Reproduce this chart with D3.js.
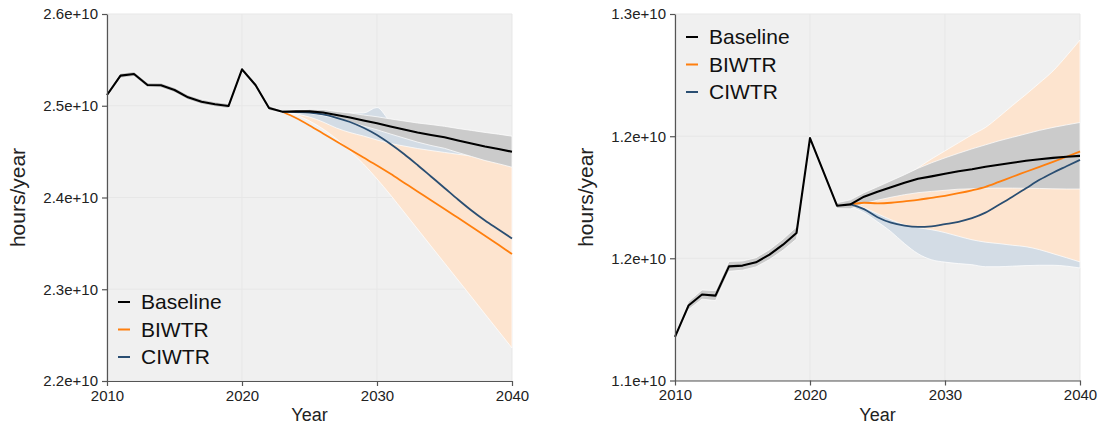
<!DOCTYPE html>
<html>
<head>
<meta charset="utf-8">
<script src="https://cdn.jsdelivr.net/npm/d3@7"></script>
<style>
  html, body { margin: 0; padding: 0; background: #ffffff; }
  svg { display: block; font-family: "Liberation Sans", Arial, Helvetica, sans-serif; }
</style>
</head>
<body>
<svg id="chart" width="1103" height="425"></svg>
<script>
// ---------------- DATA ----------------
const years = [2010, 2011, 2012, 2013, 2014, 2015, 2016, 2017, 2018, 2019, 2020,
               2021, 2022, 2023, 2024, 2025, 2026, 2027, 2028, 2029, 2030,
               2031, 2032, 2033, 2034, 2035, 2036, 2037, 2038, 2039, 2040];
const projYears = [2023, 2024, 2025, 2026, 2027, 2028, 2029, 2030, 2031,
                   2032, 2033, 2034, 2035, 2036, 2037, 2038, 2039, 2040];
const seriesNames = ["Baseline", "BIWTR", "CIWTR"];
const xTickValues = [2010, 2020, 2030, 2040];

// Left panel
const leftYTicks = [2.2e10, 2.3e10, 2.4e10, 2.5e10, 2.6e10];
const leftBaseline = [2.5117e10, 2.5328e10, 2.5346e10, 2.5226e10, 2.5223e10, 2.5172e10, 2.5092e10, 2.5044e10, 2.5016e10, 2.4997e10, 2.5397e10,
  2.5226e10, 2.4975e10, 2.4935e10, 2.4939e10, 2.4939e10, 2.4926e10, 2.4899e10, 2.4872e10, 2.4839e10, 2.4809e10,
  2.4774e10, 2.4741e10, 2.4708e10, 2.4681e10, 2.4656e10, 2.4621e10, 2.4589e10, 2.4556e10, 2.4529e10, 2.4499e10];
const leftBaselineHi = [2.5144e10, 2.5355e10, 2.5373e10, 2.5253e10, 2.5250e10, 2.5199e10, 2.5119e10, 2.5071e10, 2.5043e10, 2.5024e10, 2.5424e10,
  2.5253e10, 2.5002e10, 2.4946e10, 2.4955e10, 2.4961e10, 2.4959e10, 2.4937e10, 2.4921e10, 2.4899e10, 2.4880e10,
  2.4856e10, 2.4834e10, 2.4812e10, 2.4795e10, 2.4776e10, 2.4752e10, 2.4731e10, 2.4709e10, 2.4690e10, 2.4668e10];
const leftBaselineLo = [2.5090e10, 2.5301e10, 2.5319e10, 2.5199e10, 2.5196e10, 2.5145e10, 2.5065e10, 2.5017e10, 2.4989e10, 2.4970e10, 2.5370e10,
  2.5199e10, 2.4948e10, 2.4924e10, 2.4923e10, 2.4917e10, 2.4893e10, 2.4861e10, 2.4823e10, 2.4779e10, 2.4738e10,
  2.4692e10, 2.4648e10, 2.4604e10, 2.4567e10, 2.4536e10, 2.4490e10, 2.4447e10, 2.4403e10, 2.4368e10, 2.4330e10];
const leftBIWTR = [2.4935e10, 2.4866e10, 2.4785e10, 2.4698e10, 2.4610e10, 2.4523e10, 2.4436e10, 2.4349e10, 2.4258e10,
  2.4162e10, 2.4066e10, 2.3971e10, 2.3875e10, 2.3778e10, 2.3681e10, 2.3584e10, 2.3484e10, 2.3384e10];
const leftBIWTRHi = [2.4935e10, 2.4910e10, 2.4877e10, 2.4823e10, 2.4757e10, 2.4708e10, 2.4670e10, 2.4627e10, 2.4589e10,
  2.4561e10, 2.4534e10, 2.4512e10, 2.4491e10, 2.4471e10, 2.4452e10, 2.4431e10, 2.4409e10, 2.4387e10];
const leftBIWTRLo = [2.4935e10, 2.4899e10, 2.4834e10, 2.4747e10, 2.4638e10, 2.4507e10, 2.4365e10, 2.4202e10, 2.4027e10,
  2.3842e10, 2.3657e10, 2.3471e10, 2.3286e10, 2.3101e10, 2.2916e10, 2.2730e10, 2.2545e10, 2.2360e10];
const leftCIWTR = [2.4935e10, 2.4932e10, 2.4926e10, 2.4905e10, 2.4869e10, 2.4823e10, 2.4760e10, 2.4681e10, 2.4583e10,
  2.4474e10, 2.4354e10, 2.4229e10, 2.4104e10, 2.3978e10, 2.3858e10, 2.3749e10, 2.3651e10, 2.3553e10];
const leftCIWTRHi = [2.4943e10, 2.4943e10, 2.4937e10, 2.4932e10, 2.4926e10, 2.4921e10, 2.4921e10, 2.4981e10, 2.4834e10,
  2.4801e10, 2.4757e10, 2.4725e10, 2.4692e10, 2.4659e10, 2.4627e10, 2.4594e10, 2.4561e10, 2.4529e10];
const leftCIWTRLo = [2.4932e10, 2.4910e10, 2.4866e10, 2.4801e10, 2.4736e10, 2.4659e10, 2.4572e10, 2.4463e10, 2.4354e10,
  2.4245e10, 2.4114e10, 2.3984e10, 2.3853e10, 2.3733e10, 2.3624e10, 2.3526e10, 2.3439e10, 2.3352e10];

// Right panel
const rightYTicks = [1.1e10, 1.1667e10, 1.2333e10, 1.3e10];
const rightBaseline = [1.1238e10, 1.1409e10, 1.1469e10, 1.1463e10, 1.1623e10, 1.1627e10, 1.1645e10, 1.1687e10, 1.1741e10, 1.1805e10, 1.2323e10,
  1.2139e10, 1.1954e10, 1.1961e10, 1.2003e10, 1.2030e10, 1.2055e10, 1.2079e10, 1.2101e10, 1.2114e10, 1.2128e10,
  1.2142e10, 1.2153e10, 1.2166e10, 1.2177e10, 1.2188e10, 1.2199e10, 1.2207e10, 1.2215e10, 1.2221e10, 1.2226e10];
const rightBaselineHi = [1.1246e10, 1.1431e10, 1.1494e10, 1.1490e10, 1.1650e10, 1.1652e10, 1.1670e10, 1.1714e10, 1.1771e10, 1.1838e10, 1.2339e10,
  1.2155e10, 1.1970e10, 1.1986e10, 1.2025e10, 1.2057e10, 1.2090e10, 1.2123e10, 1.2158e10, 1.2188e10, 1.2215e10,
  1.2240e10, 1.2264e10, 1.2286e10, 1.2308e10, 1.2327e10, 1.2346e10, 1.2365e10, 1.2381e10, 1.2395e10, 1.2408e10];
const rightBaselineLo = [1.1230e10, 1.1387e10, 1.1444e10, 1.1436e10, 1.1596e10, 1.1602e10, 1.1620e10, 1.1660e10, 1.1711e10, 1.1772e10, 1.2307e10,
  1.2123e10, 1.1938e10, 1.1937e10, 1.1965e10, 1.1984e10, 1.2000e10, 1.2014e10, 1.2025e10, 1.2032e10, 1.2038e10,
  1.2044e10, 1.2046e10, 1.2049e10, 1.2050e10, 1.2050e10, 1.2049e10, 1.2048e10, 1.2046e10, 1.2045e10, 1.2045e10];
const rightBIWTR = [1.1961e10, 1.1970e10, 1.1967e10, 1.1970e10, 1.1978e10, 1.1986e10, 1.1997e10, 1.2008e10, 1.2022e10,
  1.2038e10, 1.2057e10, 1.2084e10, 1.2112e10, 1.2139e10, 1.2166e10, 1.2193e10, 1.2221e10, 1.2250e10];
const rightBIWTRHi = [1.1961e10, 1.1986e10, 1.2025e10, 1.2068e10, 1.2112e10, 1.2161e10, 1.2209e10, 1.2253e10, 1.2297e10,
  1.2341e10, 1.2381e10, 1.2439e10, 1.2501e10, 1.2561e10, 1.2624e10, 1.2689e10, 1.2771e10, 1.2858e10];
const rightBIWTRLo = [1.1961e10, 1.1943e10, 1.1910e10, 1.1877e10, 1.1850e10, 1.1834e10, 1.1823e10, 1.1807e10, 1.1787e10,
  1.1768e10, 1.1755e10, 1.1747e10, 1.1738e10, 1.1730e10, 1.1714e10, 1.1692e10, 1.1670e10, 1.1647e10];
const rightCIWTR = [1.1961e10, 1.1935e10, 1.1891e10, 1.1861e10, 1.1845e10, 1.1838e10, 1.1841e10, 1.1853e10, 1.1866e10,
  1.1886e10, 1.1916e10, 1.1959e10, 1.2003e10, 1.2049e10, 1.2095e10, 1.2134e10, 1.2169e10, 1.2204e10];
const rightCIWTRHi = [1.1970e10, 1.1959e10, 1.1932e10, 1.1910e10, 1.1894e10, 1.1888e10, 1.1888e10, 1.1894e10, 1.1905e10,
  1.1921e10, 1.1948e10, 1.1986e10, 1.2030e10, 1.2074e10, 1.2123e10, 1.2166e10, 1.2204e10, 1.2243e10];
const rightCIWTRLo = [1.1948e10, 1.1916e10, 1.1866e10, 1.1812e10, 1.1747e10, 1.1692e10, 1.1659e10, 1.1646e10, 1.1638e10,
  1.1632e10, 1.1621e10, 1.1621e10, 1.1624e10, 1.1627e10, 1.1629e10, 1.1629e10, 1.1624e10, 1.1614e10];

// ---------------- STYLE ----------------
const lineColors = { Baseline: "#000000", BIWTR: "#ff7f0e", CIWTR: "#2a4e72" };
const bandColors = { Baseline: "#cbcbcb", BIWTR: "#fde4cf", CIWTR: "#d3dce5" };

const svg = d3.select("#chart");
const fmt = d3.format(".1e");

function drawPanel(p) {
  const x = d3.scaleLinear().domain([2010, 2040]).range([p.left, p.right]);
  const y = d3.scaleLinear().domain(p.yDomain).range([p.bottom, p.top]);
  const g = svg.append("g");

  // background
  g.append("rect").attr("x", p.left).attr("y", p.top)
    .attr("width", p.right - p.left).attr("height", p.bottom - p.top)
    .attr("fill", "#f0f0f0");

  // grid
  g.selectAll(".vg").data(xTickValues).enter().append("line")
    .attr("x1", d => x(d)).attr("x2", d => x(d))
    .attr("y1", p.top).attr("y2", p.bottom)
    .attr("stroke", "#e7e7e7").attr("stroke-width", 1);
  g.selectAll(".hg").data(p.yTicks).enter().append("line")
    .attr("x1", p.left).attr("x2", p.right)
    .attr("y1", d => y(d)).attr("y2", d => y(d))
    .attr("stroke", "#e7e7e7").attr("stroke-width", 1);

  const area = (xs, lo, hi, curve) => d3.area().curve(curve)
    .x((d, i) => x(xs[i])).y0((d, i) => y(lo[i])).y1((d, i) => y(hi[i]))(xs);
  const line = (xs, vs, curve) => d3.line().curve(curve)
    .x((d, i) => x(xs[i])).y((d, i) => y(vs[i]))(xs);

  // bands: CIWTR, BIWTR, Baseline (on top)
  [["CIWTR", projYears, p.cLo, p.cHi, d3.curveMonotoneX],
   ["BIWTR", projYears, p.bLo, p.bHi, d3.curveMonotoneX],
   ["Baseline", years, p.baseLo, p.baseHi, d3.curveLinear]]
    .forEach(([name, xs, lo, hi, curve]) => {
      g.append("path").attr("d", area(xs, lo, hi, curve))
        .attr("fill", bandColors[name])
        .attr("stroke", "#ffffff").attr("stroke-width", 0.8).attr("stroke-opacity", 0.9);
    });

  // lines
  [["BIWTR", projYears, p.b, d3.curveMonotoneX],
   ["CIWTR", projYears, p.c, d3.curveMonotoneX],
   ["Baseline", years, p.base, d3.curveLinear]]
    .forEach(([name, xs, vs, curve]) => {
      g.append("path").attr("d", line(xs, vs, curve))
        .attr("fill", "none").attr("stroke", lineColors[name])
        .attr("stroke-width", name === "Baseline" ? 2.1 : 1.8)
        .attr("stroke-linejoin", "round");
    });

  // axes
  const ax = g.append("g").attr("transform", `translate(0,${p.bottom})`)
    .call(d3.axisBottom(x).tickValues(xTickValues).tickFormat(d3.format("d"))
      .tickSize(5).tickSizeOuter(0).tickPadding(4));
  const ay = g.append("g").attr("transform", `translate(${p.left},0)`)
    .call(d3.axisLeft(y).tickValues(p.yTicks).tickFormat(fmt)
      .tickSize(5).tickSizeOuter(0).tickPadding(4));
  [ax, ay].forEach(a => {
    a.selectAll("path,line").attr("stroke", "#555").attr("stroke-width", 1.2);
    a.selectAll("text").attr("fill", "#222").style("font-size", "15px")
      .style("font-family", '"Liberation Sans", Arial, sans-serif');
  });

  // axis titles
  g.append("text").attr("x", (p.left + p.right) / 2).attr("y", 421)
    .attr("text-anchor", "middle").attr("fill", "#222")
    .style("font-size", "18px").text("Year");
  g.append("text")
    .attr("transform", `translate(${p.left - 89},${(p.top + p.bottom) / 2}) rotate(-90)`)
    .attr("text-anchor", "middle").attr("dy", "0.35em").attr("fill", "#222")
    .style("font-size", "21px").text("hours/year");

  // legend
  const lg = g.append("g").attr("transform", `translate(${p.left + 11},${p.legendY})`);
  seriesNames.forEach((name, i) => {
    const row = lg.append("g").attr("transform", `translate(0,${i * 27.5})`);
    row.append("line").attr("x1", 0).attr("x2", 12).attr("y1", 0).attr("y2", 0)
      .attr("stroke", lineColors[name]).attr("stroke-width", 2);
    row.append("text").attr("x", 23).attr("y", 0).attr("dy", "0.35em")
      .attr("fill", "#111").style("font-size", "21px").text(name);
  });
}

drawPanel({
  left: 107, right: 512, top: 14, bottom: 381,
  yDomain: [2.2e10, 2.6e10], yTicks: leftYTicks, legendY: 302,
  base: leftBaseline, baseLo: leftBaselineLo, baseHi: leftBaselineHi,
  b: leftBIWTR, bLo: leftBIWTRLo, bHi: leftBIWTRHi,
  c: leftCIWTR, cLo: leftCIWTRLo, cHi: leftCIWTRHi
});
drawPanel({
  left: 675, right: 1080, top: 14, bottom: 380.5,
  yDomain: [1.1e10, 1.3e10], yTicks: rightYTicks, legendY: 37,
  base: rightBaseline, baseLo: rightBaselineLo, baseHi: rightBaselineHi,
  b: rightBIWTR, bLo: rightBIWTRLo, bHi: rightBIWTRHi,
  c: rightCIWTR, cLo: rightCIWTRLo, cHi: rightCIWTRHi
});
</script>
</body>
</html>
